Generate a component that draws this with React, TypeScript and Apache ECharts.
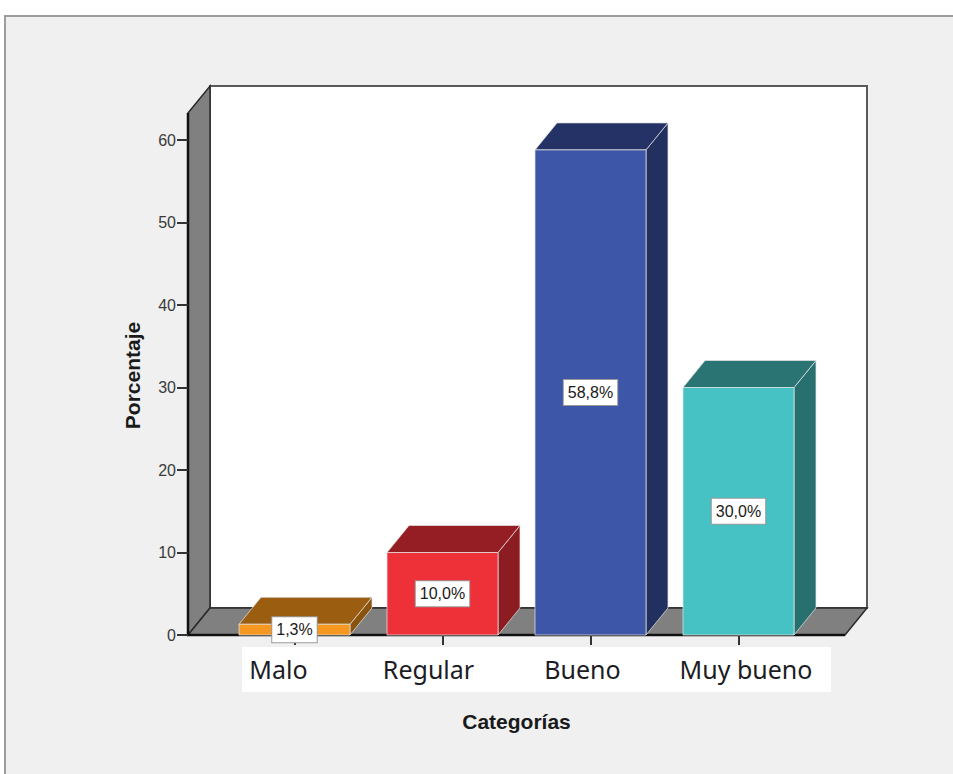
import React, { useEffect, useRef } from "react";
import * as echarts from "echarts";

// Chart data
const categories = ["Malo", "Regular", "Bueno", "Muy bueno"];
const percentages = [1.3, 10.0, 58.8, 30.0];
const yTicks = { min: 0, max: 60, interval: 10 };

// Face colours per bar (front, top, right side)
const frontColors = ["#f6981f", "#ee3139", "#3d56a7", "#46c1c4"];
const topColors = ["#9b5e10", "#951e24", "#243265", "#2b7474"];
const sideColors = ["#8a530d", "#8b1c21", "#22305f", "#287070"];

// Layout of the pseudo-3D box
const W = 953;
const H = 774;
const FRONT_LEFT = 188; // front y-axis line
const FLOOR_Y = 635; // front edge of floor (value 0)
const TOP_Y = 140; // value 60
const BAND_LEFT = 220.5;
const BAND_RIGHT = 812.5;
const FLOOR_RIGHT = 845;
const WALL_TOP = 113;
const DX = 22;
const DY = 27;

const fmt = (v: number) => v.toFixed(1).replace(".", ",") + "%";

export default function App() {
  const ref = useRef<HTMLDivElement>(null);

  useEffect(() => {
    if (!ref.current) return;
    const chart = echarts.init(ref.current, undefined, { renderer: "svg" });

    const wallFill = "#808080";
    const edge = "#2a2a2a";

    const graphic: any[] = [
      // outer panel
      {
        type: "rect",
        z: -20,
        shape: { x: 5, y: 16, width: 1200, height: 1200 },
        style: { fill: "#f0f0f0", stroke: "#9c9c9c", lineWidth: 2 },
      },
      // back wall
      {
        type: "rect",
        z: -15,
        shape: {
          x: FRONT_LEFT + DX,
          y: WALL_TOP - DY,
          width: FLOOR_RIGHT + DX - (FRONT_LEFT + DX),
          height: FLOOR_Y - DY - (WALL_TOP - DY),
        },
        style: { fill: "#ffffff", stroke: "#5a5a5a", lineWidth: 2 },
      },
      // left wall
      {
        type: "polygon",
        z: -14,
        shape: {
          points: [
            [FRONT_LEFT, WALL_TOP],
            [FRONT_LEFT + DX, WALL_TOP - DY],
            [FRONT_LEFT + DX, FLOOR_Y - DY],
            [FRONT_LEFT, FLOOR_Y],
          ],
        },
        style: { fill: wallFill, stroke: edge, lineWidth: 1.5 },
      },
      // floor
      {
        type: "polygon",
        z: -14,
        shape: {
          points: [
            [FRONT_LEFT, FLOOR_Y],
            [FRONT_LEFT + DX, FLOOR_Y - DY],
            [FLOOR_RIGHT + DX, FLOOR_Y - DY],
            [FLOOR_RIGHT, FLOOR_Y],
          ],
        },
        style: { fill: wallFill, stroke: edge, lineWidth: 1.5 },
      },
      // front edges
      {
        type: "line",
        z: -13,
        shape: { x1: FRONT_LEFT, y1: FLOOR_Y, x2: FLOOR_RIGHT, y2: FLOOR_Y },
        style: { stroke: "#111", lineWidth: 2.5 },
      },
      {
        type: "line",
        z: -13,
        shape: { x1: FRONT_LEFT, y1: WALL_TOP, x2: FRONT_LEFT, y2: FLOOR_Y },
        style: { stroke: "#111", lineWidth: 2.5 },
      },
      // white strip behind category names
      {
        type: "rect",
        z: -12,
        shape: { x: 242, y: 647, width: 589, height: 45 },
        style: { fill: "#ffffff" },
      },
    ];

    const labelShift = [
      [0, 32, 0, 0],
      [0, 28, 0, 0],
      [0, 16, 0, 0],
      [0, 0, 0, 15],
    ];
    const rich: Record<string, any> = {};
    labelShift.forEach((p, i) => {
      rich["c" + i] = {
        padding: p,
        fontFamily: "Noto Sans",
        fontSize: 25,
        color: "#1c1c24",
      };
    });

    const option: any = {
      animation: false,
      backgroundColor: "#ffffff",
      graphic,
      grid: {
        left: BAND_LEFT,
        right: W - BAND_RIGHT,
        top: TOP_Y,
        bottom: H - FLOOR_Y,
        containLabel: false,
      },
      xAxis: {
        type: "category",
        data: categories,
        name: "Categorías",
        nameLocation: "middle",
        nameGap: 76,
        nameTextStyle: {
          fontFamily: "Liberation Sans",
          fontWeight: "bold",
          fontSize: 21,
          color: "#1a1a1a",
        },
        axisLine: { show: false },
        axisTick: {
          show: true,
          alignWithLabel: true,
          length: 10,
          lineStyle: { color: "#333", width: 2 },
        },
        axisLabel: {
          margin: 21,
          formatter: (v: string, i: number) => `{c${i}|${v}}`,
          rich,
        },
        splitLine: { show: false },
      },
      yAxis: {
        type: "value",
        min: yTicks.min,
        max: yTicks.max,
        interval: yTicks.interval,
        offset: BAND_LEFT - FRONT_LEFT,
        name: "Porcentaje",
        nameLocation: "middle",
        nameRotate: 90,
        nameGap: 45,
        nameTextStyle: {
          fontFamily: "Liberation Sans",
          fontWeight: "bold",
          fontSize: 21,
          color: "#1a1a1a",
          padding: [0, 0, 0, 24],
        },
        axisLine: { show: false },
        axisTick: {
          show: true,
          length: 11,
          lineStyle: { color: "#333", width: 2 },
        },
        axisLabel: {
          margin: 12,
          fontFamily: "Liberation Sans",
          fontSize: 16,
          color: "#3a3a3a",
        },
        splitLine: { show: false },
      },
      series: [
        {
          type: "custom",
          data: percentages.map((v, i) => [i, v]),
          encode: { x: 0, y: 1 },
          renderItem: (params: any, api: any) => {
            const i = api.value(0);
            const v = api.value(1);
            const top = api.coord([i, v]);
            const base = api.coord([i, 0]);
            const bw = api.size([1, 0])[0] * 0.75;
            const x0 = top[0] - bw / 2;
            const x1 = top[0] + bw / 2;
            const yT = top[1];
            const yB = base[1];
            const edgeStroke = "rgba(225,225,225,0.75)";
            return {
              type: "group",
              children: [
                {
                  type: "polygon",
                  shape: {
                    points: [
                      [x1, yT],
                      [x1 + DX, yT - DY],
                      [x1 + DX, yB - DY],
                      [x1, yB],
                    ],
                  },
                  style: { fill: sideColors[i], stroke: edgeStroke, lineWidth: 1 },
                },
                {
                  type: "polygon",
                  shape: {
                    points: [
                      [x0, yT],
                      [x0 + DX, yT - DY],
                      [x1 + DX, yT - DY],
                      [x1, yT],
                    ],
                  },
                  style: { fill: topColors[i], stroke: edgeStroke, lineWidth: 1 },
                },
                {
                  type: "rect",
                  shape: { x: x0, y: yT, width: bw, height: yB - yT },
                  style: { fill: frontColors[i], stroke: edgeStroke, lineWidth: 1 },
                },
                {
                  type: "text",
                  style: {
                    text: fmt(v),
                    x: top[0],
                    y: (yT + yB) / 2,
                    align: "center",
                    verticalAlign: "middle",
                    fontFamily: "Liberation Sans",
                    fontSize: 16,
                    fill: "#1a1a1a",
                    backgroundColor: "#ffffff",
                    borderColor: "#9a9a9a",
                    borderWidth: 1,
                    padding: [5, 4, 4, 4],
                  },
                },
              ],
            };
          },
        },
      ],
    };

    chart.setOption(option);
    return () => chart.dispose();
  }, []);

  return (
    <div
      ref={ref}
      style={{ position: "fixed", left: 0, top: 0, width: W, height: H }}
    />
  );
}
